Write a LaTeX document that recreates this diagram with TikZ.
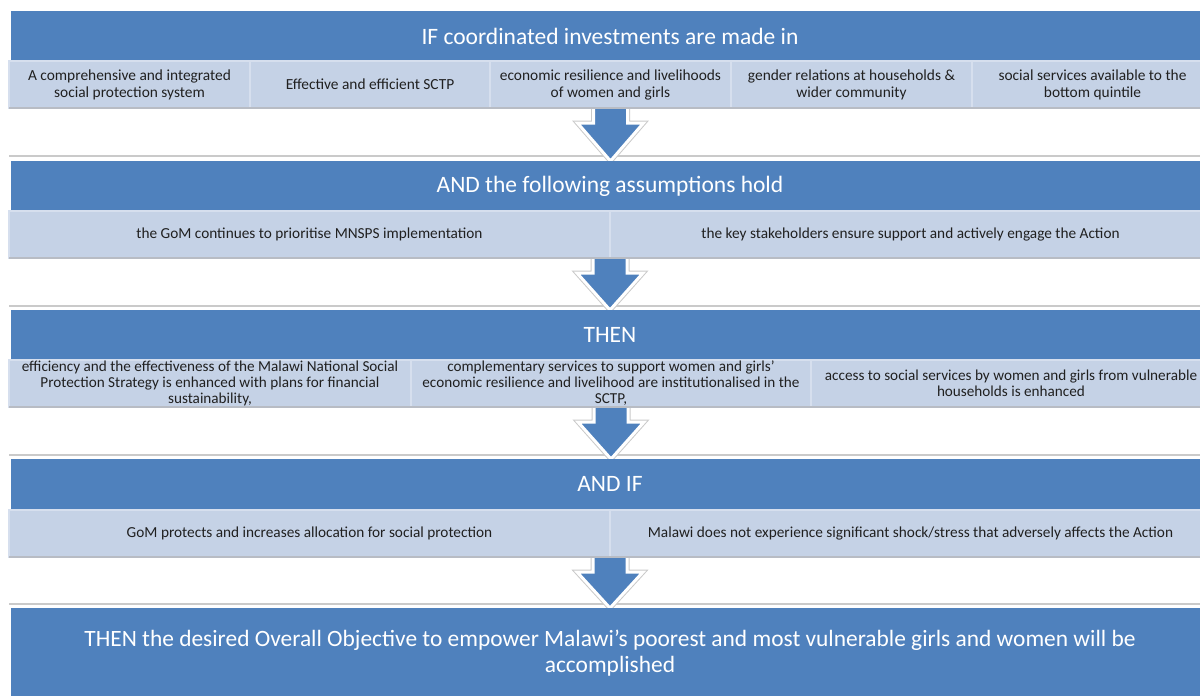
\documentclass[tikz,border=0pt]{standalone}
\usepackage{fontspec}
\setmainfont{Carlito}
\usetikzlibrary{calc}
\definecolor{hblue}{HTML}{4F81BD}
\definecolor{sblue}{HTML}{C5D2E6}
\definecolor{sdiv}{HTML}{D6DFEE}
\definecolor{sepgray}{HTML}{CACACA}
\definecolor{shadowgray}{HTML}{B8BCC4}
\definecolor{txt}{HTML}{202020}
\pgfdeclarelayer{bg}
\pgfsetlayers{bg,main}
\begin{document}
\begin{tikzpicture}[x=1pt,y=-1pt,
  hdr/.style={fill=hblue, text=white, minimum width=1198pt, minimum height=50pt,
    anchor=north west, inner sep=0pt, outer sep=0pt, font=\fontsize{23.5}{26}\selectfont},
  subbox/.style={fill=sblue, draw=sdiv, line width=1.5pt, anchor=north west,
    minimum height=47pt, inner sep=0pt, outer sep=0pt, align=center, text=txt},
  rowa/.style={subbox, font=\fontsize{15.4}{17}\selectfont},
  rowb/.style={subbox, font=\fontsize{15.3}{17}\selectfont},
  rowc/.style={subbox, font=\fontsize{15.2}{16}\selectfont},
  sepline/.style={draw=sepgray, line width=1.2pt},
  shadowline/.style={draw=shadowgray, line width=1.2pt},
  arrowgray/.style={draw=sepgray, line width=5pt, line join=miter},
  arrowwhite/.style={draw=white, line width=3pt, line join=miter, fill=hblue}
]
\useasboundingbox (0,0) rectangle (1200,696);

% Band 1
\node[hdr] (h1) at (11,11) {IF coordinated investments are made in};
\node[rowa, minimum width=241pt] (r1a) at (9,61) {A comprehensive and integrated\\social protection system};
\node[rowa, minimum width=240pt] (r1b) at (250,61) {Effective and efficient SCTP};
\node[rowa, minimum width=241pt] (r1c) at (490,61) {economic resilience and livelihoods\\of women and girls};
\node[rowa, minimum width=241pt] (r1d) at (731,61) {gender relations at households \&\\wider community};
\node[rowa, minimum width=241pt] (r1e) at (972,61) {social services available to the\\bottom quintile};

% Band 2
\node[hdr] (h2) at (11,161) {AND the following assumptions hold};
\node[rowb, minimum width=601pt] (r2a) at (9,211) {the GoM continues to prioritise MNSPS implementation};
\node[rowb, minimum width=601pt] (r2b) at (610,211) {the key stakeholders ensure support and actively engage the Action};

% Band 3
\node[hdr] (h3) at (11,310) {THEN};
\node[rowc, minimum width=402pt] (r3a) at (9,360) {efficiency and the effectiveness of the Malawi National Social\\Protection Strategy is enhanced with plans for financial\\sustainability,};
\node[rowc, minimum width=400pt] (r3b) at (411,360) {complementary services to support women and girls’\\economic resilience and livelihood are institutionalised in the\\SCTP,};
\node[rowc, minimum width=400pt] (r3c) at (811,360) {access to social services by women and girls from vulnerable\\households is enhanced};

% Band 4
\node[hdr] (h4) at (11,459) {AND IF};
\node[rowb, minimum width=601pt] (r4a) at (9,510) {GoM protects and increases allocation for social protection};
\node[rowb, minimum width=601pt] (r4b) at (610,510) {Malawi does not experience significant shock/stress that adversely affects the Action};

% Band 5
\node[hdr, minimum height=90pt, align=center, font=\fontsize{23.4}{26}\selectfont] (h5) at (11,608)
  {THEN the desired Overall Objective to empower Malawi’s poorest and most vulnerable girls and women will be\\accomplished};

\begin{pgfonlayer}{bg}
  \draw[sepline] (9,156) -- (1212,156);
  \draw[sepline] (9,306) -- (1212,306);
  \draw[sepline] (9,455) -- (1212,455);
  \draw[sepline] (9,604) -- (1212,604);
  \foreach \a/\b in {r1c.south/h2.north, r2a.south east/h3.north, r3b.south/h4.north, r4a.south east/h5.north}{
    \draw[arrowgray] let \p1=(\a), \p2=(\b) in
      (\x1-17pt,\y1+3pt) -- (\x1-17pt,\y1-15pt) -- (\x1-33pt,\y1-15pt) -- (\x1,\y2) --
      (\x1+33pt,\y1-15pt) -- (\x1+17pt,\y1-15pt) -- (\x1+17pt,\y1+3pt) -- cycle;
    \draw[arrowwhite] let \p1=(\a), \p2=(\b) in
      (\x1-17pt,\y1+3pt) -- (\x1-17pt,\y1-15pt) -- (\x1-33pt,\y1-15pt) -- (\x1,\y2) --
      (\x1+33pt,\y1-15pt) -- (\x1+17pt,\y1-15pt) -- (\x1+17pt,\y1+3pt) -- cycle;
  }
\end{pgfonlayer}
\draw[shadowline] (r1a.south west) -- (r1e.south east);
\draw[shadowline] (r2a.south west) -- (r2b.south east);
\draw[shadowline] (r3a.south west) -- (r3c.south east);
\draw[shadowline] (r4a.south west) -- (r4b.south east);
\end{tikzpicture}
\end{document}
